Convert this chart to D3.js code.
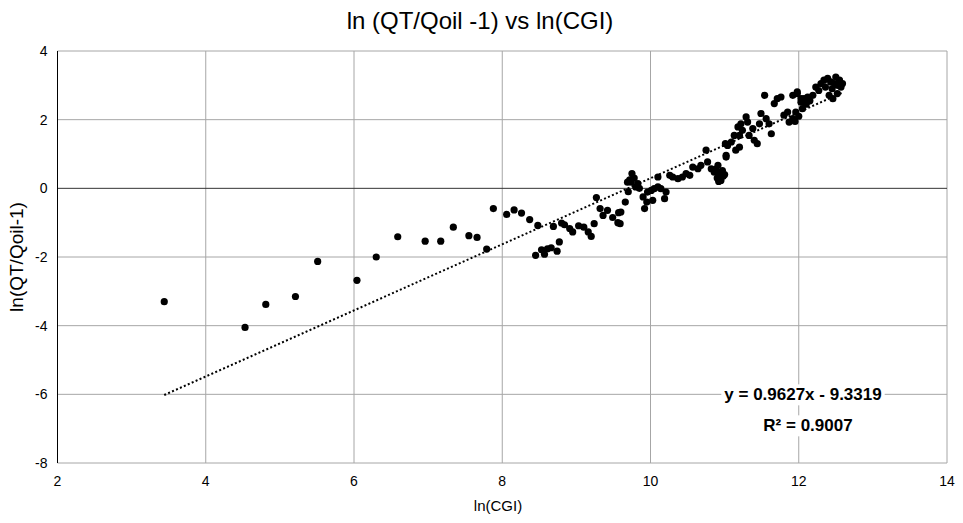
<!DOCTYPE html>
<html>
<head>
<meta charset="utf-8">
<script src="https://cdn.jsdelivr.net/npm/d3@7"></script>
<style>
body{margin:0;background:#fff;}
svg{font-family:"Liberation Sans",Arial,sans-serif;}
</style>
</head>
<body>
<svg width="963" height="523"></svg>
<script>
// ln(CGI) and ln(QT/Qoil-1)
const cgi=[3.44,4.53,4.81,5.21,5.51,6.04,6.30,6.59,6.96,7.17,7.34,7.55,7.66,7.79,
  7.88,8.06,8.16,8.26,8.37,8.48,8.69,8.80,8.84,8.91,8.95,9.03,9.10,9.16,9.20,9.24,
  9.27,9.32,9.36,9.42,9.49,9.56,9.57,8.45,8.53,8.57,8.61,8.66,8.74,8.77,
  9.66,9.69,9.75,9.74,9.83,9.80,9.60,9.59,9.90,9.92,9.96,10.01,10.03,10.05,10.10,10.14,
  10.19,10.21,10.10,10.26,10.30,10.37,10.43,10.48,10.53,10.57,10.64,10.68,10.75,10.77,
  10.82,10.86,10.91,10.93,10.95,10.97,11.02,11.01,
  10.90,10.94,10.98,10.88,10.92,11.00,9.78,9.72,9.85,9.70,9.95,
  11.02,11.04,11.09,11.13,11.15,11.18,11.22,11.24,11.29,11.31,11.33,11.38,11.40,11.44,
  11.47,11.49,11.54,11.56,11.60,11.63,11.67,11.71,11.76,11.80,11.85,11.87,11.92,11.96,
  11.98,12.03,12.05,11.20,11.20,
  11.92,11.98,12.03,12.07,12.12,12.19,12.23,12.30,12.34,12.39,12.43,12.50,12.52,12.57,
  12.59,12.41,12.46,12.52,12.45,12.55,12.48,12.36,12.27,12.15,12.10,12.00,11.95];
const lnq=[-3.30,-4.05,-3.38,-3.15,-2.13,-2.68,-2.00,-1.41,-1.54,-1.54,-1.13,-1.38,-1.43,-1.77,
  -0.59,-0.76,-0.63,-0.72,-0.91,-1.08,-1.11,-1.01,-1.06,-1.17,-1.27,-1.09,-1.13,-1.27,-1.40,-1.03,
  -0.27,-0.59,-0.79,-0.64,-0.85,-1.00,-0.71,-1.95,-1.79,-1.92,-1.76,-1.73,-1.83,-1.56,
  -0.40,0.18,0.43,0.18,0.14,0.04,-0.69,-1.03,-0.25,-0.59,-0.11,-0.06,-0.35,-0.01,0.04,-0.01,
  -0.30,-0.11,0.33,0.38,0.33,0.28,0.33,0.43,0.38,0.62,0.57,0.67,1.11,0.77,
  0.57,0.47,0.67,0.38,0.23,0.52,0.91,1.30,
  0.30,0.45,0.35,0.55,0.20,0.40,0.30,0.25,0.00,-0.10,-0.40,
  0.96,1.25,1.35,1.54,1.11,1.79,1.88,1.69,2.08,1.93,1.54,1.74,1.40,1.30,
  1.88,2.18,2.71,2.03,1.88,1.59,2.47,2.61,2.66,2.13,2.22,1.93,2.03,2.22,
  2.76,2.61,2.32,1.54,1.20,
  2.71,2.81,2.51,2.61,2.66,2.71,2.95,3.05,3.15,3.20,3.10,3.24,3.00,2.95,
  3.05,2.71,2.61,2.76,2.90,3.15,3.05,2.95,2.85,2.55,2.45,2.10,1.95];
const xTicks=[2,4,6,8,10,12,14];
const yTicks=[-8,-6,-4,-2,0,2,4];
const slope=0.9627, intercept=-9.3319, r2=0.9007;

const svg=d3.select('svg');
const pLeft=57.5, pRight=947, pTop=51, pBottom=463;

const x=d3.scaleLinear().domain([2,14]).range([pLeft,pRight]);
const y=d3.scaleLinear().domain([-8,4]).range([pBottom,pTop]);

// grid
svg.append('g')
  .selectAll('line')
  .data(xTicks)
  .join('line')
  .attr('x1',d=>x(d)).attr('x2',d=>x(d))
  .attr('y1',pTop).attr('y2',pBottom)
  .attr('stroke','#a6a6a6').attr('stroke-width',1);

svg.append('g')
  .selectAll('line')
  .data(yTicks)
  .join('line')
  .attr('x1',pLeft).attr('x2',pRight)
  .attr('y1',d=>y(d)).attr('y2',d=>y(d))
  .attr('stroke',d=>d===0?'#333':'#a6a6a6').attr('stroke-width',1);

// y axis line
svg.append('line')
  .attr('x1',pLeft).attr('x2',pLeft)
  .attr('y1',pTop).attr('y2',pBottom)
  .attr('stroke','#000').attr('stroke-width',1);

// tick labels
svg.append('g')
  .selectAll('text')
  .data(xTicks)
  .join('text')
  .attr('x',d=>x(d)).attr('y',pBottom+23)
  .attr('text-anchor','middle')
  .attr('font-size',14)
  .text(d=>d);

svg.append('g')
  .selectAll('text')
  .data(yTicks)
  .join('text')
  .attr('x',pLeft-10).attr('y',d=>y(d)+5)
  .attr('text-anchor','end')
  .attr('font-size',14)
  .text(d=>d);

// trendline
const xmin=d3.min(cgi), xmax=d3.max(cgi);
svg.append('line')
  .attr('x1',x(xmin)).attr('y1',y(slope*xmin+intercept))
  .attr('x2',x(xmax)).attr('y2',y(slope*xmax+intercept))
  .attr('stroke','#000').attr('stroke-width',2)
  .attr('stroke-dasharray','2,2.3');

// points
svg.append('g')
  .selectAll('circle')
  .data(cgi)
  .join('circle')
  .attr('cx',d=>x(d))
  .attr('cy',(d,i)=>y(lnq[i]))
  .attr('r',3.6)
  .attr('fill','#000');

// equation
const eq=svg.append('g').attr('font-size',17).attr('font-weight','bold');
const t1=eq.append('text').attr('x',803).attr('y',y(-6)+6)
  .attr('text-anchor','middle')
  .text(`y = ${slope}x - ${Math.abs(intercept)}`);
const t2=eq.append('text').attr('x',808).attr('y',y(-6)+37)
  .attr('text-anchor','middle')
  .text(`R² = ${r2}`);
[t1,t2].forEach(t=>{
  const b=t.node().getBBox();
  eq.insert('rect','text')
    .attr('x',b.x-3).attr('y',b.y-1)
    .attr('width',b.width+6).attr('height',b.height+2)
    .attr('fill','#fff');
});

// titles
svg.append('text')
  .attr('x',480).attr('y',29)
  .attr('text-anchor','middle')
  .attr('font-size',24)
  .text('ln (QT/Qoil -1) vs ln(CGI)');

svg.append('text')
  .attr('x',498).attr('y',511)
  .attr('text-anchor','middle')
  .attr('font-size',15)
  .text('ln(CGI)');

svg.append('text')
  .attr('transform',`translate(23,${(pTop+pBottom)/2}) rotate(-90)`)
  .attr('text-anchor','middle')
  .attr('font-size',19)
  .text('ln(QT/Qoil-1)');
</script>
</body>
</html>
